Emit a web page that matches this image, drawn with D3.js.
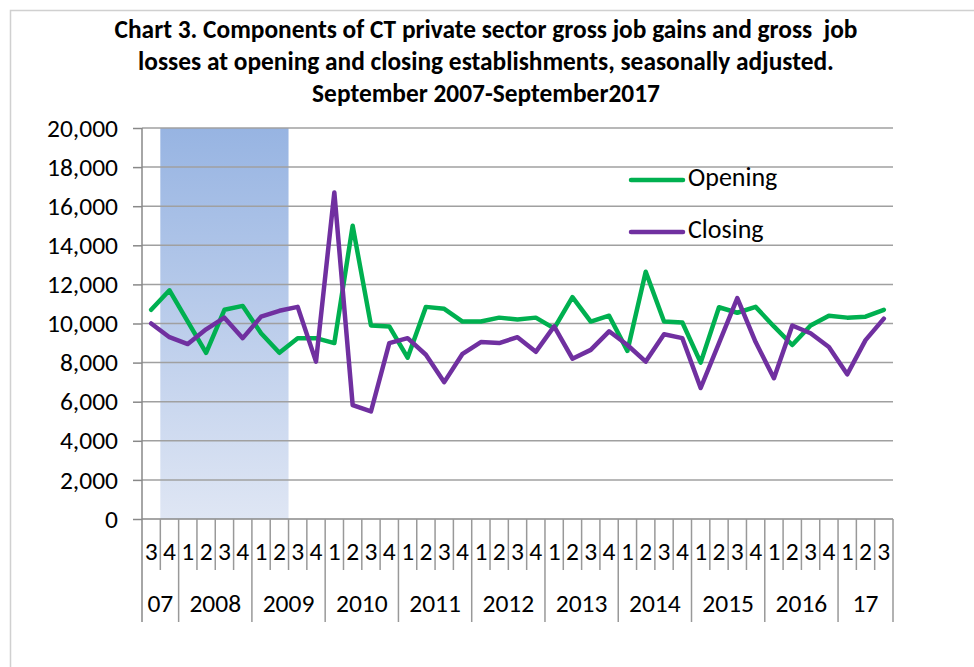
<!DOCTYPE html>
<html>
<head>
<meta charset="utf-8">
<script src="https://cdn.jsdelivr.net/npm/d3@7"></script>
<style>
  body { margin: 0; background: #fff; }
  svg text { font-family: Carlito, Calibri, Lato, sans-serif; fill: #000; }
</style>
</head>
<body>
<div id="chart"></div>
<script>
const width = 974;
const height = 667;

// quarter labels, 2007Q3 .. 2017Q3
const quarters = ["3","4",
    "1","2","3","4", "1","2","3","4", "1","2","3","4", "1","2","3","4",
    "1","2","3","4", "1","2","3","4", "1","2","3","4", "1","2","3","4",
    "1","2","3","4", "1","2","3"];
const yearLabels = ["07","2008","2009","2010","2011","2012","2013","2014","2015","2016","17"];
const yearSpans  = [2, 4, 4, 4, 4, 4, 4, 4, 4, 4, 3];

const opening = [10700, 11700, 10100, 8500, 10700, 10900, 9500, 8500, 9250, 9250,
    9000, 15000, 9900, 9850, 8250, 10850, 10750, 10100, 10100, 10300,
    10200, 10300, 9750, 11350, 10100, 10400, 8600, 12650, 10100, 10050,
    8000, 10830, 10550, 10850, 9850, 8900, 9900, 10400, 10300, 10350, 10700];
const closing = [10000, 9300, 8950, 9700, 10300, 9250, 10350, 10650, 10850, 8050,
    16700, 5830, 5500, 9000, 9250, 8400, 7000, 8450, 9050, 9000,
    9300, 8550, 9850, 8200, 8650, 9600, 8900, 8050, 9450, 9250,
    6700, 9000, 11300, 9050, 7200, 9900, 9500, 8800, 7400, 9150, 10250];

// recession shading, Dec 2007 - Jun 2009 (index of first and last quarter)
const recession = [1, 7];

const yTicks = [0, 2000, 4000, 6000, 8000, 10000, 12000, 14000, 16000, 18000, 20000];

const titleLines = [
    "Chart 3. Components of CT private sector gross job gains and gross  job",
    "losses at opening and closing establishments, seasonally adjusted.",
    "September 2007-September2017"
];

const margin = { top: 128, left: 142, right: 81, bottom: 148 };

const svg = d3.select("#chart").append("svg")
    .attr("width", width)
    .attr("height", height);

// outer frame
svg.append("rect")
    .attr("x", 10.5).attr("y", 10.5)
    .attr("width", 980).attr("height", 700)
    .attr("fill", "none")
    .attr("stroke", "#d0d0d0")
    .attr("stroke-width", 1.5);

const x = d3.scaleBand()
    .domain(d3.range(quarters.length))
    .range([margin.left, width - margin.right])
    .padding(0);

const y = d3.scaleLinear()
    .domain([0, 20000])
    .range([height - margin.bottom, margin.top]);

const defs = svg.append("defs");
const grad = defs.append("linearGradient")
    .attr("id", "recess")
    .attr("x1", 0).attr("y1", 0).attr("x2", 0).attr("y2", 1);
grad.append("stop").attr("offset", "0%").attr("stop-color", "#97b4e2");
grad.append("stop").attr("offset", "100%").attr("stop-color", "#dfe6f4");

svg.append("rect")
    .attr("x", x(recession[0]))
    .attr("y", y(20000))
    .attr("width", x(recession[1]) + x.bandwidth() - x(recession[0]))
    .attr("height", y(0) - y(20000))
    .attr("fill", "url(#recess)");

// gridlines + y axis
const yAxis = svg.append("g")
    .attr("transform", `translate(${margin.left},0)`)
    .call(d3.axisLeft(y)
        .tickValues(yTicks)
        .tickSize(9)
        .tickPadding(15)
        .tickFormat(d3.format(",")));
yAxis.select(".domain").remove();
yAxis.selectAll(".tick line").attr("stroke", "#888").attr("stroke-width", 1.5);
yAxis.selectAll(".tick text")
    .attr("font-size", "25.5px")
    .attr("font-family", null);

svg.append("g")
    .selectAll("line")
    .data(yTicks.filter(d => d > 0))
    .join("line")
    .attr("x1", margin.left)
    .attr("x2", width - margin.right)
    .attr("y1", d => y(d))
    .attr("y2", d => y(d))
    .attr("stroke", "#a0a0a0")
    .attr("stroke-width", 1.5);

// vertical axis line
svg.append("line")
    .attr("x1", margin.left).attr("x2", margin.left)
    .attr("y1", y(20000)).attr("y2", y(0) + 103)
    .attr("stroke", "#888").attr("stroke-width", 1.5);

// category axis
const base = y(0);
svg.append("line")
    .attr("x1", margin.left).attr("x2", width - margin.right)
    .attr("y1", base).attr("y2", base)
    .attr("stroke", "#888").attr("stroke-width", 1.5);

// year boundaries
const yearStarts = [];
let acc = 0;
yearSpans.forEach(n => { yearStarts.push(acc); acc += n; });

const isYearStart = i => yearStarts.includes(i) || i === quarters.length;

svg.append("g")
    .selectAll("line")
    .data(d3.range(1, quarters.length + 1))
    .join("line")
    .attr("x1", i => i === quarters.length ? x.range()[1] : x(i))
    .attr("x2", i => i === quarters.length ? x.range()[1] : x(i))
    .attr("y1", base)
    .attr("y2", i => isYearStart(i) ? base + 103 : base + 51)
    .attr("stroke", "#999")
    .attr("stroke-width", 1.5);

svg.append("g")
    .selectAll("text")
    .data(quarters)
    .join("text")
    .attr("x", (d, i) => x(i) + x.bandwidth() / 2)
    .attr("y", base + 35)
    .attr("text-anchor", "middle")
    .attr("dominant-baseline", "middle")
    .attr("font-size", "25.5px")
    .text(d => d);

svg.append("g")
    .selectAll("text")
    .data(yearLabels)
    .join("text")
    .attr("x", (d, i) => {
        const s = yearStarts[i], n = yearSpans[i];
        return (x(s) + x(s + n - 1) + x.bandwidth()) / 2;
    })
    .attr("y", base + 87)
    .attr("text-anchor", "middle")
    .attr("dominant-baseline", "middle")
    .attr("font-size", "25.5px")
    .text(d => d);

// lines
const line = d3.line()
    .x((d, i) => x(i) + x.bandwidth() / 2)
    .y(d => y(d));

svg.append("path")
    .datum(opening)
    .attr("d", line)
    .attr("fill", "none")
    .attr("stroke", "#00b050")
    .attr("stroke-width", 4.5)
    .attr("stroke-linejoin", "round")
    .attr("stroke-linecap", "round");

svg.append("path")
    .datum(closing)
    .attr("d", line)
    .attr("fill", "none")
    .attr("stroke", "#7030a0")
    .attr("stroke-width", 4.5)
    .attr("stroke-linejoin", "round")
    .attr("stroke-linecap", "round");

// legend
const legend = [
    { name: "Opening", color: "#00b050", y: 180 },
    { name: "Closing", color: "#7030a0", y: 232 }
];
const lg = svg.append("g").selectAll("g").data(legend).join("g");
lg.append("line")
    .attr("x1", 631).attr("x2", 683)
    .attr("y1", d => d.y).attr("y2", d => d.y)
    .attr("stroke", d => d.color)
    .attr("stroke-width", 4.5)
    .attr("stroke-linecap", "round");
lg.append("text")
    .attr("x", 688)
    .attr("y", d => d.y)
    .attr("dominant-baseline", "middle")
    .attr("font-size", "26px")
    .text(d => d.name);

// title
svg.append("g")
    .selectAll("text")
    .data(titleLines)
    .join("text")
    .attr("x", 486)
    .attr("y", (d, i) => 38 + i * 32)
    .attr("text-anchor", "middle")
    .attr("font-size", "25.4px")
    .attr("font-weight", "bold")
    .style("white-space", "pre")
    .text(d => d);
</script>
</body>
</html>
